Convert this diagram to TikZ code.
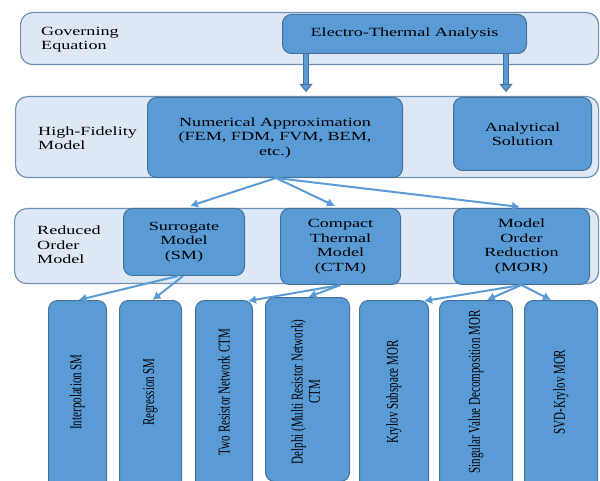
\documentclass[tikz,border=0pt]{standalone}
\usepackage{fontspec}
\setmainfont{Liberation Serif}
\newfontfamily\hfont{Liberation Serif}[FakeStretch=1.45]
\usetikzlibrary{arrows.meta,calc}
\definecolor{boxfill}{HTML}{5B9BD5}
\definecolor{boxline}{HTML}{41719C}
\definecolor{bandfill}{HTML}{DDE8F4}
\definecolor{bandline}{HTML}{6F8FB3}
\definecolor{connc}{HTML}{5B9BD5}
\begin{document}
\begin{tikzpicture}[x=1pt,y=-1pt,
  band/.style={draw=bandline, fill=bandfill, line width=1.2pt, rounded corners=12pt, anchor=north west, inner sep=0pt},
  bbox/.style={draw=boxline, fill=boxfill, line width=1pt, rounded corners=9pt, anchor=north west, inner sep=0pt,
     font=\hfont\fontsize{12.5}{14.5}\selectfont, align=center, text=black},
  tbox/.style={draw=boxline, fill=boxfill, line width=1pt, rounded corners=9pt, anchor=north west, inner sep=0pt},
  lbl/.style={font=\hfont\fontsize{12.5}{14.5}\selectfont, align=left, text=black, inner sep=0pt, anchor=west},
  rlbl/.style={font=\fontsize{11}{12.5}\selectfont, rotate=90, inner sep=0pt, text=black},
  conn/.style={draw=connc, line width=2pt, -{Latex[length=8pt,width=9pt]}},
  big/.style={draw=boxline, line width=0.9pt, double=boxfill, double distance=3.6pt,
     -{Triangle[length=8pt,width=13pt,fill=boxfill]}}
]
\useasboundingbox (0,0) rectangle (600,481);
\clip (0,0) rectangle (600,481);

% bands
\node[band, minimum width=578pt, minimum height=52pt] (b1) at (20,12) {};
\node[band, minimum width=583pt, minimum height=81pt] (b2) at (15,96) {};
\node[band, minimum width=584pt, minimum height=75pt] (b3) at (14,208) {};

\node[lbl] (l1) at (41,39.5) {Governing\\Equation};
\node[lbl] (l2) at (38,138) {High-Fidelity\\Model};
\node[lbl] (l3) at (37,245) {Reduced\\Order\\Model};

% upper boxes
\node[bbox, minimum width=244pt, minimum height=39pt] (et) at (282,14) {Electro-Thermal Analysis};
\node[bbox, minimum width=255pt, minimum height=80pt] (num) at (147,97) {Numerical Approximation\\(FEM, FDM, FVM, BEM,\\etc.)};
\node[bbox, minimum width=138pt, minimum height=73pt] (an) at (453,97) {Analytical\\Solution};
\node[bbox, minimum width=121pt, minimum height=67pt] (sm) at (123,208) {Surrogate\\Model\\(SM)};
\node[bbox, minimum width=120pt, minimum height=76pt] (ctm) at (280,208) {Compact\\Thermal\\Model\\(CTM)};
\node[bbox, minimum width=136pt, minimum height=76pt] (mor) at (453,208) {Model\\Order\\Reduction\\(MOR)};

% bottom boxes
\node[tbox, minimum width=58pt, minimum height=200pt] (interp) at (48,300) {};
\node[tbox, minimum width=62pt, minimum height=200pt] (reg) at (119,300) {};
\node[tbox, minimum width=57pt, minimum height=200pt] (two) at (195,300) {};
\node[tbox, minimum width=84pt, minimum height=184pt] (del) at (265,297) {};
\node[tbox, minimum width=69pt, minimum height=200pt] (kry) at (359,300) {};
\node[tbox, minimum width=73pt, minimum height=200pt] (svd) at (439,300) {};
\node[tbox, minimum width=73pt, minimum height=200pt] (svdk) at (524,300) {};

\node[rlbl] (t1) at ($(interp.north)+(0,92)$) {\scalebox{1}[1.5]{Interpolation SM}};
\node[rlbl] (t2) at ($(reg.north)+(0,92)$) {\scalebox{1}[1.5]{Regression SM}};
\node[rlbl] (t3) at ($(two.north)+(0,92)$) {\scalebox{1}[1.5]{Two Resistor Network CTM}};
\node[rlbl] (t4) at ($(del.north)+(0,95)$) {\scalebox{1}[1.5]{\begin{tabular}{@{}c@{}}Delphi (Multi Resistor Network)\\[-1pt]CTM\end{tabular}}};
\node[rlbl] (t5) at ($(kry.north)+(0,92)$) {\scalebox{1}[1.5]{Krylov Subspace MOR}};
\node[rlbl] (t6) at ($(svd.north)+(0,92)$) {\scalebox{1}[1.5]{Singular Value Decomposition MOR}};
\node[rlbl] (t7) at ($(svdk.north)+(0,92)$) {\scalebox{1}[1.5]{SVD-Krylov MOR}};

% big arrows
\draw[big] ($(et.south west)+(24,0)$) -- ($(num.north west)+(159,-5)$);
\draw[big] ($(et.south west)+(224,0)$) -- ($(an.north west)+(53,-5)$);

% connectors
\draw[conn] ($(num.south)+(1,0)$) -- ($(sm.north west)+(67,-2)$);
\draw[conn] ($(num.south)+(1,0)$) -- ($(ctm.north west)+(55,-2)$);
\draw[conn] ($(num.south)+(1,0)$) -- ($(mor.north west)+(67,-1)$);

\draw[conn] ($(sm.south west)+(55,0)$) -- ($(interp.north)+(1,0)$);
\draw[conn] ($(sm.south west)+(60,0)$) -- ($(reg.north)+(2,0)$);

\draw[conn] (ctm.south) -- ($(two.north east)+(-5,1)$);
\draw[conn] (ctm.south) -- ($(del.north)+(1,0)$);

\draw[conn] (mor.south) -- ($(kry.north east)+(-5,1)$);
\draw[conn] (mor.south) -- ($(svd.north)+(11,0)$);
\draw[conn] (mor.south) -- ($(svdk.north)+(-10,0)$);
\end{tikzpicture}
\end{document}
